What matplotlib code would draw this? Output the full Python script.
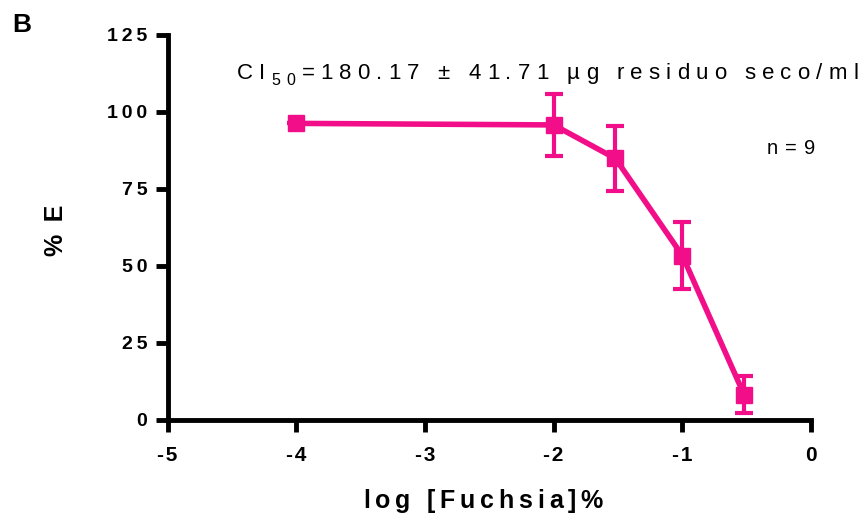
import matplotlib
matplotlib.use("Agg")
import matplotlib.pyplot as plt
from matplotlib.font_manager import FontProperties, findfont
from matplotlib.ft2font import FT2Font

log_conc = [-4.0, -2.0, -1.52, -1.0, -0.52]
pct_e = [96.3, 95.8, 84.9, 53.4, 8.2]
sem = [0.0, 10.0, 10.7, 11.0, 6.0]
xticks = [-5, -4, -3, -2, -1, 0]
yticks = [0, 25, 50, 75, 100, 125]

pink = '#F20E88'
FAM = ['Liberation Sans', 'DejaVu Sans']
plt.rcParams['font.family'] = FAM

W, H, DPI = 868, 513, 100
fig = plt.figure(figsize=(W / DPI, H / DPI), dpi=DPI)
ax = fig.add_axes([0.193, 0.1813, 0.7414, 0.7505])

ax.errorbar(log_conc, pct_e, yerr=sem, color=pink, lw=4, marker='s', ms=12,
            capsize=6.5, capthick=3, elinewidth=3, zorder=3, clip_on=False)

ax.set_xlim(-5, 0)
ax.set_ylim(0, 125)
ax.set_xticks(xticks)
ax.set_yticks(yticks)
ax.set_xticklabels([str(t).replace('-', '-\u200a') for t in xticks], fontsize=15, fontweight='bold')
ax.set_yticklabels(['\u2009'.join(str(t)) for t in yticks], fontsize=14, fontweight='bold')
for s in ['top', 'right']:
    ax.spines[s].set_visible(False)
for s in ['left', 'bottom']:
    ax.spines[s].set_linewidth(3.5)
ax.tick_params(width=3.5, length=8.5, direction='out')
ax.tick_params(axis='x', pad=10)
ax.tick_params(axis='y', pad=6)


def advance(ch, size, weight):
    prop = FontProperties(family=FAM[0], size=size, weight=weight)
    font = FT2Font(findfont(prop))
    font.set_size(size, DPI)
    g = font.load_char(ord(ch))
    return g.linearHoriAdvance / 65536.0


def tracked(chunks, x0, y0, width):
    items = []
    for text, size, weight, dy in chunks:
        for ch in text:
            items.append((ch, size, weight, dy))
    widths = [advance(ch, s, w) for ch, s, w, _ in items]
    track = (width - sum(widths)) / (len(items) - 1)
    x = x0
    for (ch, s, w, dy), adv in zip(items, widths):
        if ch != ' ':
            fig.text(x / W, 1 - (y0 + dy) / H, ch, fontsize=s, fontweight=w,
                     ha='left', va='baseline')
        x += adv + track


tracked([('CI', 16, 'normal', 0), ('50', 11.5, 'normal', 6),
         ('=180.17 ± 41.71 µg residuo seco/ml', 16, 'normal', 0)], 237, 79, 621)
tracked([('n=9', 14.5, 'normal', 0)], 767, 154, 48)
tracked([('log [Fuchsia]%', 18, 'bold', 0)], 363, 508, 240)

fig.text(56 / W, 1 - 230 / H, '%\u2002E', rotation=90, fontsize=18, fontweight='bold',
         ha='center', va='center')
fig.text(22 / W, 1 - 25 / H, 'B', fontsize=19, fontweight='bold', ha='center', va='center')

fig.savefig('out.png', dpi=DPI)
